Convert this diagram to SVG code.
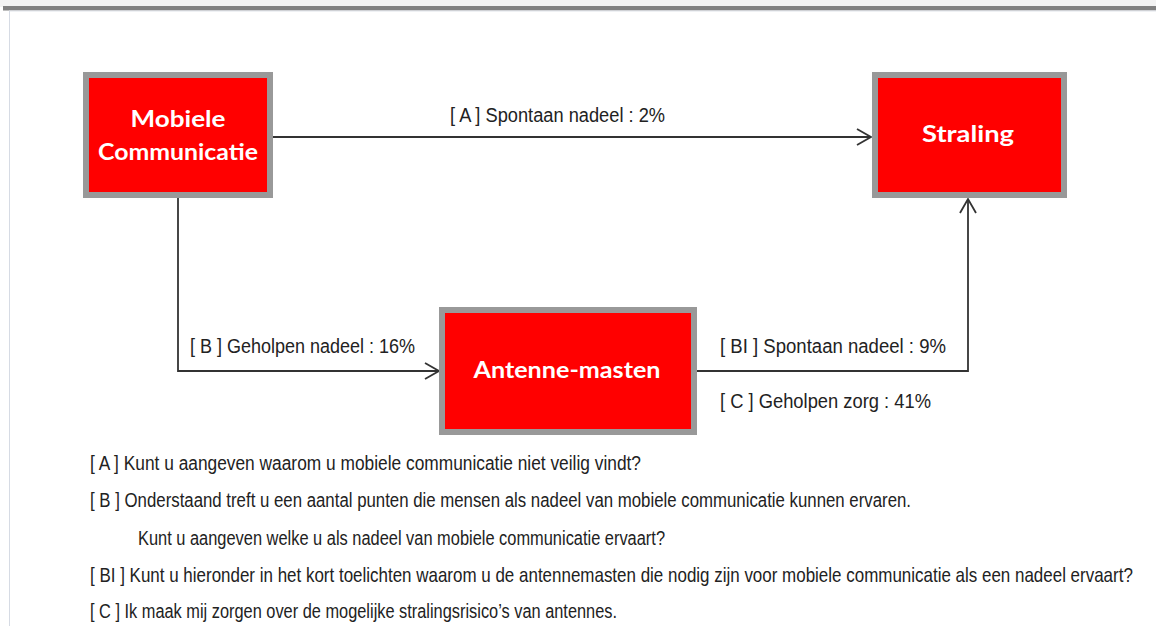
<svg xmlns="http://www.w3.org/2000/svg" width="1156" height="626" viewBox="0 0 1156 626">
  <style>
    .box { fill: #ff0000; stroke: #999999; stroke-width: 6; }
    .btxt { font-family: "Lato", "Liberation Sans", sans-serif; font-weight: bold; font-size: 22px; fill: #ffffff; text-anchor: middle; }
    .lbl { font-family: "Liberation Sans", "DejaVu Sans", sans-serif; font-size: 20px; fill: #222222; }
    .conn { fill: none; stroke: #333333; stroke-width: 1.8; }
  </style>
  <defs>
    <marker id="arrow" viewBox="-16 -10 18 20" refX="0" refY="0" markerWidth="18" markerHeight="20" markerUnits="userSpaceOnUse" orient="auto">
      <path d="M-14,-8 L0,0 L-14,8" fill="none" stroke="#333333" stroke-width="1.8"/>
    </marker>
  </defs>

  <!-- page chrome -->
  <rect x="0" y="0" width="1156" height="626" fill="#ffffff"/>
  <rect x="0" y="0" width="1156" height="7" fill="#f2f2f2"/>
  <rect x="3" y="6" width="1153" height="4.5" fill="#808080"/>
  <line x1="9" y1="11" x2="1156" y2="11" stroke="#dfe3ea" stroke-width="1"/>
  <line x1="9.5" y1="11" x2="9.5" y2="626" stroke="#d6dbe4" stroke-width="1"/>

  <g id="connectors">
    <path class="conn" d="M273,137 L871,137" marker-end="url(#arrow)"/>
    <path class="conn" d="M178,198 L178,371 L439,371" marker-end="url(#arrow)"/>
    <path class="conn" d="M697,371 L968,371 L968,199" marker-end="url(#arrow)"/>
  </g>

  <g id="node-mobiele">
    <rect class="box" x="86" y="75" width="184" height="120"/>
    <text class="btxt" x="178" y="127" textLength="95" lengthAdjust="spacingAndGlyphs">Mobiele</text>
    <text class="btxt" x="178" y="160" textLength="160" lengthAdjust="spacingAndGlyphs">Communicatie</text>
  </g>

  <g id="node-straling">
    <rect class="box" x="875" y="75" width="189" height="120"/>
    <text class="btxt" x="968" y="142" textLength="92" lengthAdjust="spacingAndGlyphs">Straling</text>
  </g>

  <g id="node-antenne">
    <rect class="box" x="442" y="310" width="252" height="122"/>
    <text class="btxt" x="567" y="378" textLength="187" lengthAdjust="spacingAndGlyphs">Antenne-masten</text>
  </g>

  <g id="edge-labels">
    <text class="lbl" x="450" y="122" textLength="215" lengthAdjust="spacingAndGlyphs">[ A ] Spontaan nadeel : 2%</text>
    <text class="lbl" x="190" y="353" textLength="225" lengthAdjust="spacingAndGlyphs">[ B ] Geholpen nadeel : 16%</text>
    <text class="lbl" x="720" y="353" textLength="226" lengthAdjust="spacingAndGlyphs">[ BI ] Spontaan nadeel : 9%</text>
    <text class="lbl" x="720" y="408" textLength="211" lengthAdjust="spacingAndGlyphs">[ C ] Geholpen zorg : 41%</text>
  </g>

  <g id="legend">
    <text class="lbl" x="90" y="470" textLength="551" lengthAdjust="spacingAndGlyphs">[ A ] Kunt u aangeven waarom u mobiele communicatie niet veilig vindt?</text>
    <text class="lbl" x="90" y="507" textLength="821" lengthAdjust="spacingAndGlyphs">[ B ] Onderstaand treft u een aantal punten die mensen als nadeel van mobiele communicatie kunnen ervaren.</text>
    <text class="lbl" x="138" y="545" textLength="527" lengthAdjust="spacingAndGlyphs">Kunt u aangeven welke u als nadeel van mobiele communicatie ervaart?</text>
    <text class="lbl" transform="translate(90,582) scale(0.78,1)" x="0" y="0" textLength="1337" lengthAdjust="spacingAndGlyphs">[ BI ] Kunt u hieronder in het kort toelichten waarom u de antennemasten die nodig zijn voor mobiele communicatie als een nadeel ervaart?</text>
    <text class="lbl" x="90" y="618" textLength="527" lengthAdjust="spacingAndGlyphs">[ C ] Ik maak mij zorgen over de mogelijke stralingsrisico’s van antennes.</text>
  </g>
</svg>
